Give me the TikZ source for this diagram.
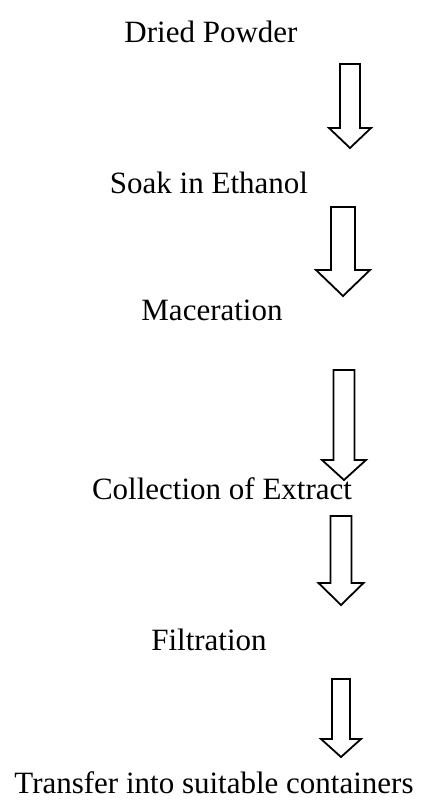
\documentclass[tikz,border=0pt]{standalone}
\usepackage{fontspec}
\setmainfont{Liberation Serif}
\usepackage{tikz}
\usetikzlibrary{positioning}
\tikzset{
    step label/.style={
           inner sep=0pt,
           anchor=base,
           font=\fontsize{31}{36}\selectfont
           },
    blockarrow/.style={
           draw=black,
           line width=1.8pt,
           line join=miter,
           fill=white
           }
}
% x, top, head base, tip, shaft half width, head half width
\newcommand{\flowarrow}[6]{%
  \draw[blockarrow] ({#1-#5},#2) -- ({#1+#5},#2) -- ({#1+#5},#3) -- ({#1+#6},#3)
     -- (#1,#4) -- ({#1-#6},#3) -- ({#1-#5},#3) -- cycle;}

\begin{document}
\begin{tikzpicture}[x=1pt, y=-1pt]
   \useasboundingbox (0,0) rectangle (426,808);
   \node[step label] (dried) at (211,43) {Dried Powder};
   \node[step label] (soak) at (209,193) {Soak in Ethanol};
   \node[step label] (macer) at (212,320) {Maceration};
   \node[step label] (collect) at (222,499) {Collection of Extract};
   \node[step label] (filt) at (209,650) {Filtration};
   \node[step label] (transfer) at (214,793) {Transfer into suitable containers};
   \flowarrow{350}{64}{128}{148}{10}{21}
   \flowarrow{343}{207}{270}{296}{12}{27}
   \flowarrow{344}{370}{460}{480}{10.5}{22}
   \flowarrow{341}{516}{583}{605}{10.5}{22.5}
   \flowarrow{341}{679}{739}{757}{9}{20}
\end{tikzpicture}
\end{document}
